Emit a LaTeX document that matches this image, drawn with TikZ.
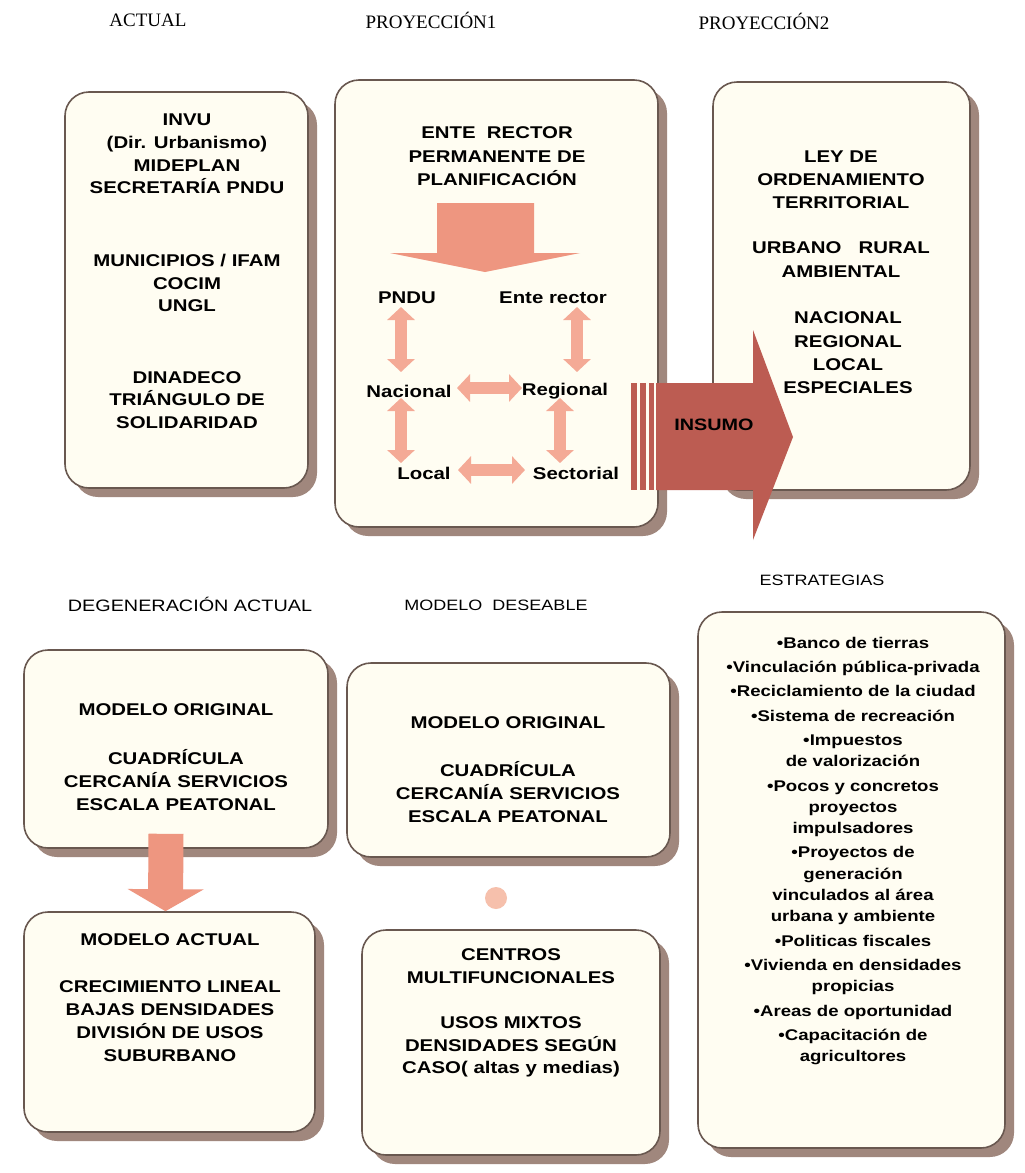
\documentclass[tikz,border=0pt]{standalone}
\usepackage{fontspec}
\setmainfont{Liberation Sans}
\newfontfamily\bx{Liberation Sans}[FakeStretch=1.2]
\newfontfamily\srf{Liberation Serif}
\usetikzlibrary{shadows,arrows.meta}
\definecolor{cream}{RGB}{255,253,242}
\definecolor{bord}{RGB}{105,88,80}
\definecolor{shad}{RGB}{160,135,125}
\definecolor{salmon}{RGB}{238,150,128}
\definecolor{lsalmon}{RGB}{244,170,150}
\definecolor{insc}{RGB}{188,92,82}
\definecolor{blob}{RGB}{246,192,172}
\begin{document}
\begin{tikzpicture}[x=1pt,y=-1pt,
  box/.style={draw=bord,line width=1.6pt,fill=cream,rounded corners=24pt,inner sep=0pt,
    drop shadow={shadow xshift=9pt,shadow yshift=-9pt,fill=shad,opacity=1}},
  bt/.style={font=\bx\bfseries\fontsize{17}{22.8}\selectfont,align=center,inner sep=0pt},
  lbl/.style={font=\bx\bfseries\fontsize{17}{20}\selectfont,inner sep=0pt},
  st/.style={font=\bx\bfseries\fontsize{15.5}{21.3}\selectfont,align=center,inner sep=0pt},
  hdr/.style={font=\srf\fontsize{19}{21}\selectfont,inner sep=0pt},
  sec/.style={font=\bx\fontsize{15}{18}\selectfont,inner sep=0pt},
  dbl/.style={draw=lsalmon,line width=12pt,
    {Triangle[width=27pt,length=13pt]}-{Triangle[width=27pt,length=13pt]}}
]
\useasboundingbox[fill=white] (0,0) rectangle (1025,1173);

% headers
\node[hdr] (h1) at (148,20) {ACTUAL};
\node[hdr] (h2) at (431,20) {PROYECCIÓN1};
\node[hdr] (h3) at (764,21) {PROYECCIÓN2};
\node[sec,font=\bx\fontsize{16.5}{18}\selectfont] (s1) at (190,604) {DEGENERACIÓN ACTUAL};
\node[sec] (s2) at (496,605) {MODELO\ \ DESEABLE};
\node[sec] (s3) at (822,580) {ESTRATEGIAS};

% boxes
\node[box,minimum width=243pt,minimum height=396pt] (b1) at (186.5,290) {};
\node[box,minimum width=323pt,minimum height=447pt] (b2) at (496.5,303.5) {};
\node[box,minimum width=257pt,minimum height=408pt] (b3) at (841.5,286) {};
\node[box,minimum width=304pt,minimum height=198pt] (b4) at (176,749) {};
\node[box,minimum width=291pt,minimum height=220pt] (b5) at (169.5,1022) {};
\node[box,minimum width=323pt,minimum height=194pt] (b6) at (508.5,760) {};
\node[box,minimum width=298pt,minimum height=225pt] (b7) at (511,1042.5) {};
\node[box,minimum width=307pt,minimum height=536pt] (b8) at (851.5,880) {};

% box 1
\node[bt] (t1a) at (187,154) {INVU\\(Dir. Urbanismo)\\MIDEPLAN\\SECRETARÍA PNDU};
\node[bt] (t1b) at (187,283) {MUNICIPIOS / IFAM\\COCIM\\UNGL};
\node[bt] (t1c) at (187,400) {DINADECO\\TRIÁNGULO DE\\SOLIDARIDAD};

% box 2
\node[bt,font=\bx\bfseries\fontsize{17}{23.5}\selectfont] (t2) at (497,156.5)
  {ENTE\ \ RECTOR\\PERMANENTE DE\\PLANIFICACIÓN};
\fill[salmon] (437,203) -- (534,203) -- (534,253) -- (580,253) -- (485,272)
  -- (390,253) -- (437,253) -- cycle;
\node[lbl] (pndu) at (407,298) {PNDU};
\node[lbl] (ente) at (553,298) {Ente rector};
\node[lbl] (nac) at (409,391) {Nacional};
\node[lbl] (reg) at (565,391) {Regional};
\node[lbl] (loc) at (424,473) {Local};
\node[lbl] (sect) at (576,473) {Sectorial};
\draw[dbl] ([xshift=-6pt,yshift=-9pt]pndu.center) -- ([xshift=-8pt,yshift=19pt]nac.center);
\draw[dbl] ([xshift=24pt,yshift=-9pt]ente.center) -- ([xshift=12pt,yshift=19pt]reg.center);
\draw[dbl] ([xshift=-8pt,yshift=-7pt]nac.center) -- ([xshift=-23pt,yshift=10pt]loc.center);
\draw[dbl] ([xshift=-5pt,yshift=-7pt]reg.center) -- ([xshift=-16pt,yshift=10pt]sect.center);
\draw[dbl] ([xshift=48pt,yshift=3pt]nac.center) -- ([xshift=-43pt,yshift=3pt]reg.center);
\draw[dbl] ([xshift=34pt,yshift=3pt]loc.center) -- ([xshift=-51pt,yshift=3pt]sect.center);

% box 3
\node[bt,font=\bx\bfseries\fontsize{17}{23}\selectfont] (t3a) at (841,179.5) {LEY DE\\ORDENAMIENTO\\TERRITORIAL};
\node[bt,font=\bx\bfseries\fontsize{17}{24}\selectfont] (t3b) at (841,260) {URBANO\ \ \ RURAL\\AMBIENTAL};
\node[bt,font=\bx\bfseries\fontsize{17}{23.3}\selectfont] (t3c) at (848,353) {NACIONAL\\REGIONAL\\LOCAL\\ESPECIALES};

% INSUMO arrow
\fill[insc] (631,383) rectangle (637,490);
\fill[insc] (640,383) rectangle (646,490);
\fill[insc] (649,383) rectangle (654,490);
\fill[insc] (656,383) -- (753,383) -- (753,330) -- (793,437) -- (753,540)
  -- (753,490) -- (656,490) -- cycle;
\node[lbl,font=\bx\bfseries\fontsize{16.5}{18}\selectfont] (insumo) at (714,425) {INSUMO};

% box 4 / 5
\node[bt] (t4a) at (176,710) {MODELO ORIGINAL};
\node[bt] (t4b) at (176,780) {CUADRÍCULA\\CERCANÍA SERVICIOS\\ESCALA PEATONAL};
\node[bt] (t5a) at (170,940) {MODELO ACTUAL};
\node[bt] (t5b) at (170,1021) {CRECIMIENTO LINEAL\\BAJAS DENSIDADES\\DIVISIÓN DE USOS\\SUBURBANO};
\draw[draw=salmon,line width=35pt,-{Triangle[width=75pt,length=22pt]}]
  ([xshift=-10pt,yshift=15pt]b4.south) -- ([xshift=-4pt]b5.north);

% box 6 / 7
\node[bt] (t6a) at (508,723) {MODELO ORIGINAL};
\node[bt] (t6b) at (508,792) {CUADRÍCULA\\CERCANÍA SERVICIOS\\ESCALA PEATONAL};
\node[circle,fill=blob,minimum size=22pt,inner sep=0pt] (dot) at (496,898) {};
\node[bt] (t7a) at (511,966) {CENTROS\\MULTIFUNCIONALES};
\node[bt] (t7b) at (511,1047) {USOS MIXTOS\\DENSIDADES SEGÚN\\CASO( altas y medias)};

% box 8
\node[st] (t8) at (853,851) {•Banco de tierras\\[3pt]•Vinculación pública-privada\\[3pt]•Reciclamiento de la ciudad\\[3pt]•Sistema de recreación\\[3pt]•Impuestos\\de valorización\\[3pt]•Pocos y concretos\\proyectos\\impulsadores\\[3pt]•Proyectos de\\generación\\vinculados al área\\urbana y ambiente\\[3pt]•Politicas fiscales\\[3pt]•Vivienda en densidades\\propicias\\[3pt]•Areas de oportunidad\\[3pt]•Capacitación de\\agricultores};
\end{tikzpicture}
\end{document}
